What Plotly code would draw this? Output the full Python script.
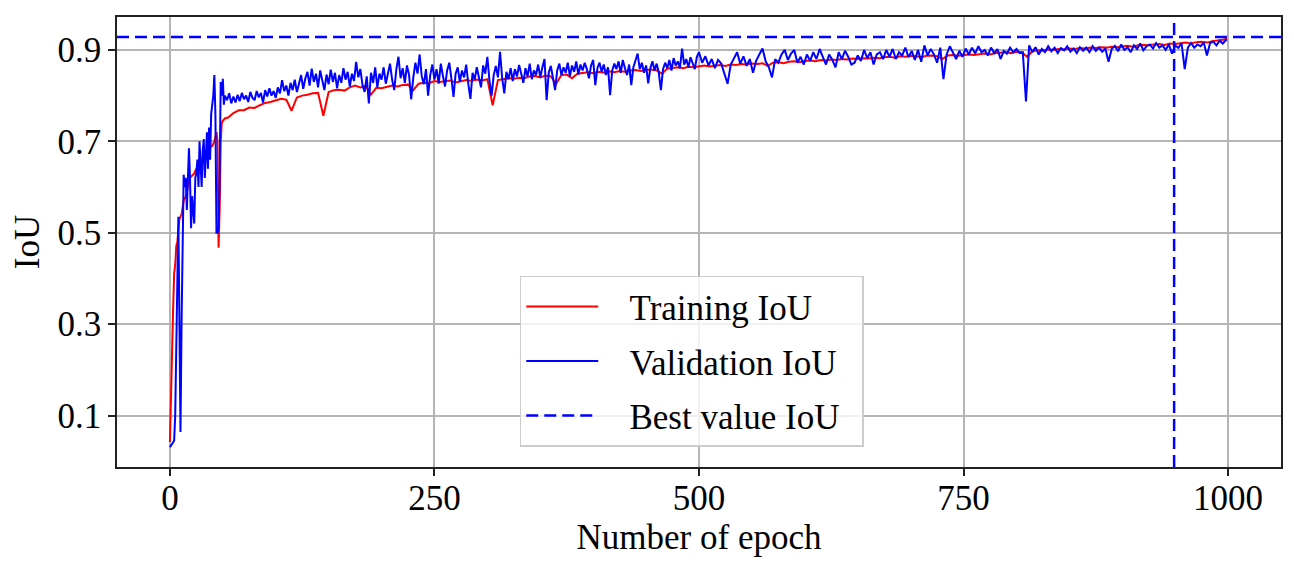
import plotly.graph_objects as go

# Training IoU (sparser sampling after epoch 55)
train_epoch = [0, 1, 2, 3, 4, 5, 6, 7, 9, 11, 13, 15, 17, 19, 21, 23, 25, 28, 31, 34,
               37, 40, 42, 44, 45, 46, 47, 48, 49, 50, 52] + list(range(55, 1000, 5)) + [999]
train_iou = [0.042, 0.12, 0.25, 0.33, 0.41, 0.43, 0.47, 0.48, 0.53, 0.54, 0.57, 0.58, 0.60,
             0.62, 0.625, 0.63, 0.64, 0.645, 0.655, 0.67, 0.685, 0.69, 0.70, 0.72, 0.70,
             0.467, 0.55, 0.70, 0.74, 0.745, 0.750,
             # 55 .. 995 step 5
             0.752, 0.762, 0.768, 0.768, 0.774, 0.773, 0.779, 0.784, 0.786, 0.790,
             0.793, 0.791, 0.767, 0.796, 0.800, 0.802, 0.805, 0.806, 0.756, 0.808,
             0.812, 0.813, 0.811, 0.818, 0.822, 0.818, 0.821, 0.802, 0.817, 0.816,
             0.819, 0.822, 0.820, 0.823, 0.824, 0.812, 0.826, 0.828, 0.827, 0.832,
             0.830, 0.831, 0.833, 0.829, 0.831, 0.834, 0.832, 0.835, 0.833, 0.836,
             0.779, 0.834, 0.836, 0.838, 0.837, 0.839, 0.838, 0.842, 0.843, 0.840,
             0.844, 0.842, 0.826, 0.845, 0.846, 0.838, 0.848, 0.850, 0.851, 0.849,
             0.852, 0.850, 0.853, 0.851, 0.854, 0.852, 0.855, 0.856, 0.854, 0.856,
             0.857, 0.855, 0.848, 0.859, 0.861, 0.862, 0.860, 0.863, 0.862, 0.864,
             0.866, 0.864, 0.866, 0.867, 0.865, 0.868, 0.867, 0.869, 0.868, 0.870,
             0.869, 0.871, 0.865, 0.872, 0.873, 0.871, 0.874, 0.875, 0.873, 0.876,
             0.877, 0.875, 0.878, 0.877, 0.879, 0.878, 0.880, 0.879, 0.881, 0.880,
             0.882, 0.881, 0.883, 0.882, 0.884, 0.885, 0.883, 0.886, 0.885, 0.887,
             0.886, 0.884, 0.887, 0.888, 0.886, 0.880, 0.888, 0.889, 0.887, 0.889,
             0.890, 0.889, 0.891, 0.892, 0.890, 0.893, 0.894, 0.895, 0.893, 0.896,
             0.895, 0.885, 0.897, 0.899, 0.898, 0.901, 0.900, 0.902, 0.901, 0.903,
             0.902, 0.904, 0.903, 0.905, 0.904, 0.906, 0.905, 0.907, 0.906, 0.908,
             0.909, 0.907, 0.910, 0.911, 0.910, 0.912, 0.913, 0.911, 0.914, 0.913,
             0.915, 0.916, 0.914, 0.917, 0.918, 0.916, 0.919, 0.920, 0.922,
             0.925]

# Validation IoU: every epoch up to 52, every 2nd up to 500, every 3rd after
val_epoch = list(range(0, 53)) + list(range(54, 501, 2)) + list(range(503, 999, 3)) + [999]
val_iou = [0.031, 0.035, 0.040, 0.042, 0.045, 0.10, 0.25, 0.45, 0.535, 0.30,
           0.064, 0.30, 0.475, 0.627, 0.60, 0.62, 0.55, 0.60, 0.685, 0.62,
           0.51, 0.58, 0.55, 0.52, 0.62, 0.63, 0.66, 0.60, 0.70, 0.64,
           0.60, 0.68, 0.705, 0.62, 0.69, 0.72, 0.64, 0.73, 0.66, 0.76,
           0.78, 0.80, 0.845, 0.76, 0.50, 0.50, 0.51, 0.62, 0.83, 0.80,
           0.837, 0.78, 0.80,
           # 54 .. 100
           0.790, 0.805, 0.783, 0.798, 0.785, 0.802, 0.788, 0.806, 0.792, 0.800,
           0.786, 0.808, 0.795, 0.790, 0.810, 0.796, 0.806, 0.785, 0.812, 0.798,
           0.816, 0.800, 0.810, 0.795,
           # 102 .. 200
           0.818, 0.805, 0.834, 0.810, 0.822, 0.800, 0.828, 0.812, 0.835, 0.808,
           0.826, 0.845, 0.815, 0.838, 0.852, 0.822, 0.859, 0.830, 0.848, 0.818,
           0.855, 0.833, 0.812, 0.846, 0.825, 0.857, 0.830, 0.850, 0.816, 0.845,
           0.828, 0.860, 0.835, 0.852, 0.820, 0.848, 0.832, 0.874, 0.840, 0.858,
           0.823, 0.808, 0.842, 0.783, 0.850, 0.828, 0.862, 0.818, 0.848, 0.835,
           # 202 .. 300
           0.862, 0.826, 0.850, 0.870, 0.835, 0.812, 0.858, 0.885, 0.838, 0.860,
           0.828, 0.866, 0.845, 0.792, 0.840, 0.872, 0.848, 0.890, 0.842, 0.825,
           0.858, 0.800, 0.845, 0.868, 0.835, 0.858, 0.826, 0.870, 0.843, 0.820,
           0.855, 0.872, 0.838, 0.797, 0.848, 0.862, 0.830, 0.855, 0.840, 0.868,
           0.825, 0.793, 0.850, 0.835, 0.862, 0.842, 0.818, 0.866, 0.848, 0.885,
           # 302 .. 400
           0.832, 0.800, 0.845, 0.865, 0.840, 0.896, 0.838, 0.805, 0.852, 0.836,
           0.860, 0.832, 0.858, 0.842, 0.867, 0.848, 0.828, 0.860, 0.842, 0.870,
           0.836, 0.855, 0.845, 0.868, 0.840, 0.862, 0.880, 0.790, 0.850, 0.865,
           0.838, 0.812, 0.855, 0.870, 0.845, 0.862, 0.850, 0.872, 0.842, 0.866,
           0.852, 0.875, 0.846, 0.868, 0.855, 0.872, 0.858, 0.838, 0.866, 0.878,
           # 402 .. 500
           0.823, 0.860, 0.872, 0.852, 0.868, 0.845, 0.862, 0.801, 0.855, 0.870,
           0.858, 0.875, 0.850, 0.878, 0.860, 0.845, 0.868, 0.823, 0.862, 0.880,
           0.892, 0.858, 0.872, 0.850, 0.866, 0.827, 0.860, 0.875, 0.855, 0.870,
           0.850, 0.812, 0.858, 0.872, 0.860, 0.878, 0.855, 0.882, 0.866, 0.875,
           0.860, 0.903, 0.868, 0.880, 0.862, 0.884, 0.870, 0.858, 0.885, 0.895,
           # 503 .. 998 step 3
           0.872, 0.886, 0.866, 0.880, 0.860, 0.878, 0.870, 0.848, 0.826, 0.868,
           0.882, 0.895, 0.870, 0.886, 0.865, 0.880, 0.850, 0.876, 0.890, 0.903,
           0.875, 0.862, 0.840, 0.880, 0.872, 0.890, 0.900, 0.878, 0.892, 0.900,
           0.872, 0.885, 0.868, 0.890, 0.876, 0.895, 0.880, 0.902, 0.885, 0.868,
           0.890, 0.878, 0.862, 0.895, 0.880, 0.898, 0.885, 0.868, 0.872, 0.888,
           0.876, 0.900, 0.882, 0.895, 0.868, 0.890, 0.895, 0.880, 0.900, 0.885,
           0.902, 0.880, 0.895, 0.888, 0.905, 0.884, 0.898, 0.878, 0.900, 0.874,
           0.910, 0.888, 0.902, 0.890, 0.872, 0.905, 0.836, 0.890, 0.908, 0.895,
           0.880, 0.898, 0.885, 0.903, 0.890, 0.905, 0.892, 0.908, 0.895, 0.900,
           0.888, 0.905, 0.893, 0.902, 0.880, 0.898, 0.892, 0.905, 0.895, 0.902,
           0.893, 0.895, 0.787, 0.910, 0.895, 0.906, 0.890, 0.902, 0.895, 0.908,
           0.897, 0.905, 0.893, 0.904, 0.899, 0.908, 0.896, 0.903, 0.893, 0.906,
           0.898, 0.905, 0.895, 0.908, 0.898, 0.905, 0.896, 0.903, 0.874, 0.902,
           0.909, 0.897, 0.912, 0.900, 0.906, 0.895, 0.910, 0.902, 0.914, 0.899,
           0.908, 0.912, 0.903, 0.915, 0.905, 0.910, 0.900, 0.912, 0.892, 0.910,
           0.904, 0.915, 0.858, 0.905, 0.915, 0.905, 0.912, 0.908, 0.916, 0.888,
           0.915, 0.918, 0.910, 0.920, 0.914, 0.922,
           0.921]

best_epoch = 949
best_iou = 0.928

x_ticks = [0, 250, 500, 750, 1000]
y_ticks = [0.1, 0.3, 0.5, 0.7, 0.9]

FONT = "Liberation Serif"
FSIZE = 35
DASH = dict(color="blue", width=2.5, dash="12px,6px")
PAD = "\u00a0\u00a0\u00a0"  # gap between legend sample and label


def label(text):
    return PAD + text + "\u00a0\u00a0"


fig = go.Figure()
fig.add_trace(go.Scatter(x=train_epoch, y=train_iou, mode="lines", name=label("Training IoU"),
                         legendgroup="a", line=dict(color="red", width=2)))
fig.add_trace(go.Scatter(x=val_epoch, y=val_iou, mode="lines", name=label("Validation IoU"),
                         legendgroup="b", line=dict(color="blue", width=2)))
# legend entry only, the lines themselves are shapes
fig.add_trace(go.Scatter(x=[None], y=[None], mode="lines", name=label("Best value IoU"),
                         legendgroup="c", line=DASH))

fig.add_hline(y=best_iou, line=DASH)
fig.add_vline(x=best_epoch, line=DASH)

axis_common = dict(
    showline=True, mirror=True, linecolor="#222222", linewidth=1.5,
    ticks="outside", ticklen=7, tickwidth=1.5, tickcolor="#222222",
    showgrid=True, gridcolor="#b5b5b5", gridwidth=1.5, zeroline=False,
    tickfont=dict(family=FONT, size=FSIZE, color="black"),
)
fig.update_xaxes(range=[-50, 1050], tickvals=x_ticks, ticklabelstandoff=-8,
                 title=dict(text="Number of epoch", font=dict(family=FONT, size=FSIZE, color="black"), standoff=0),
                 **axis_common)
fig.update_yaxes(range=[-0.0125, 0.972], tickvals=y_ticks, tickformat=".1f",
                 title=dict(text="IoU", font=dict(family=FONT, size=FSIZE, color="black"), standoff=10),
                 **axis_common)

# page body adds an 8px offset, so margins are shifted to compensate
fig.update_layout(
    width=1294, height=576,
    margin=dict(l=109, r=21, t=7, b=117),
    plot_bgcolor="white", paper_bgcolor="white",
    font=dict(family=FONT, size=FSIZE, color="black"),
    showlegend=True,
    legend=dict(x=0.346, y=0.425, xanchor="left", yanchor="top",
                bgcolor="rgba(255,255,255,0.8)", bordercolor="#cccccc", borderwidth=1.5,
                font=dict(family=FONT, size=FSIZE, color="black"), itemwidth=72,
                traceorder="grouped", tracegroupgap=6),
)

fig.write_html("out.html")
